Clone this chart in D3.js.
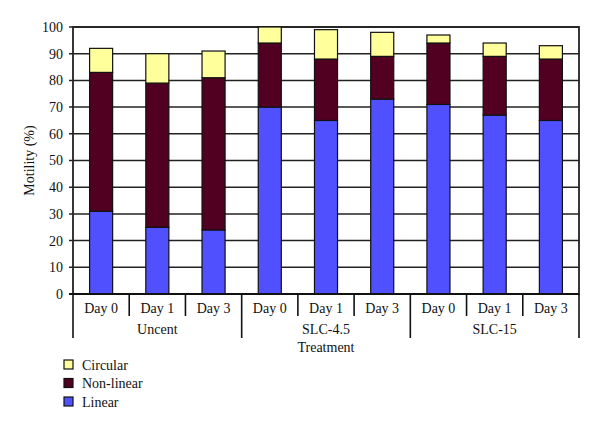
<!DOCTYPE html>
<html>
<head>
<meta charset="utf-8">
<script src="https://cdn.jsdelivr.net/npm/d3@7"></script>
<style>
  body { margin: 0; background: #fff; }
  svg text { font-family: "Liberation Serif", "Times New Roman", "DejaVu Serif", serif !important; fill: #111; font-size: 14px; }
</style>
</head>
<body>
<div id="chart"></div>
<script>
// data
const groups = ["Uncent", "SLC-4.5", "SLC-15"];
const days = ["Day 0", "Day 1", "Day 3"];
const linear    = [31, 25, 24, 70, 65, 73, 71, 67, 65];
const nonLinear = [52, 54, 57, 24, 23, 16, 23, 22, 23];
const circular  = [ 9, 11, 10,  6, 11,  9,  3,  5,  5];
const yTicks = [0, 10, 20, 30, 40, 50, 60, 70, 80, 90, 100];
const seriesNames = ["Linear", "Non-linear", "Circular"];
const colors = { "Linear": "#5050ff", "Non-linear": "#520022", "Circular": "#ffff9c" };

const W = 600, H = 429;
const margin = { top: 27, right: 21, bottom: 135, left: 73 };
const width = W - margin.left - margin.right;
const height = H - margin.top - margin.bottom;
const serif = "'Liberation Serif', 'Times New Roman', serif";

const svg = d3.select("#chart").append("svg")
    .attr("width", W).attr("height", H)
    .attr("font-family", serif);
const g = svg.append("g").attr("transform", `translate(${margin.left},${margin.top})`);

// one row per bar
const rows = [];
groups.forEach((gr, i) => days.forEach((d, j) => {
    const k = i * days.length + j;
    rows.push({ key: gr + "|" + d, group: gr, day: d,
        "Linear": linear[k], "Non-linear": nonLinear[k], "Circular": circular[k] });
}));

const x = d3.scaleBand().domain(rows.map(r => r.key)).range([0, width]).paddingInner(0).paddingOuter(0);
const y = d3.scaleLinear().domain([0, 100]).range([height, 0]);

// gridlines
g.append("g").selectAll("line").data(yTicks).enter().append("line")
    .attr("x1", -4).attr("x2", width)
    .attr("y1", d => y(d)).attr("y2", d => y(d))
    .attr("stroke", "#222").attr("stroke-width", 1.5);

// frame
g.append("rect").attr("x", 0).attr("y", 0).attr("width", width).attr("height", height)
    .attr("fill", "none").attr("stroke", "#222").attr("stroke-width", 1.8);

// y axis labels
const yAxis = g.append("g").call(d3.axisLeft(y).tickValues(yTicks).tickSize(0).tickPadding(10));
yAxis.attr("font-family", serif);
yAxis.select(".domain").remove();
yAxis.selectAll("text").attr("fill", "#111");

// stacked bars
const stack = d3.stack().keys(seriesNames)(rows);
const bw = x.bandwidth() * 0.41;
g.append("g").selectAll("g").data(stack).enter().append("g")
    .attr("fill", s => colors[s.key])
    .selectAll("rect").data(s => s).enter().append("rect")
    .attr("x", d => x(d.data.key) + (x.bandwidth() - bw) / 2)
    .attr("width", bw)
    .attr("y", d => y(d[1]))
    .attr("height", d => y(d[0]) - y(d[1]))
    .attr("stroke", "#111").attr("stroke-width", 1.2);

// x axis line
g.append("line").attr("x1", -4).attr("x2", width).attr("y1", height).attr("y2", height)
    .attr("stroke", "#111").attr("stroke-width", 2);

// category separators
const bounds = d3.range(rows.length + 1);
g.append("g").selectAll("line").data(bounds).enter().append("line")
    .attr("x1", i => i * x.bandwidth()).attr("x2", i => i * x.bandwidth())
    .attr("y1", height)
    .attr("y2", i => height + (i % days.length === 0 ? 44 : 22))
    .attr("stroke", "#111").attr("stroke-width", 1.6);

// day labels
g.append("g").selectAll("text").data(rows).enter().append("text")
    .attr("x", d => x(d.key) + x.bandwidth() / 2)
    .attr("y", height + 19)
    .attr("text-anchor", "middle")
    .text(d => d.day);

// group labels
g.append("g").selectAll("text").data(groups).enter().append("text")
    .attr("x", (d, i) => (i * days.length + days.length / 2) * x.bandwidth())
    .attr("y", height + 40)
    .attr("text-anchor", "middle")
    .text(d => d);

// x title
g.append("text").attr("x", width / 2).attr("y", height + 58)
    .attr("text-anchor", "middle").text("Treatment");

// y title
svg.append("text")
    .attr("transform", `translate(34,${margin.top + height / 2}) rotate(-90)`)
    .attr("text-anchor", "middle").text("Motility (%)");

// legend
const legendItems = ["Circular", "Non-linear", "Linear"];
const lg = svg.append("g").attr("transform", "translate(64,360)");
const li = lg.selectAll("g").data(legendItems).enter().append("g")
    .attr("transform", (d, i) => `translate(0,${i * 18.5})`);
li.append("rect").attr("width", 9).attr("height", 9)
    .attr("fill", d => colors[d]).attr("stroke", "#111").attr("stroke-width", 1.2);
li.append("text").attr("x", 18).attr("y", 9.5).text(d => d);
</script>
</body>
</html>
